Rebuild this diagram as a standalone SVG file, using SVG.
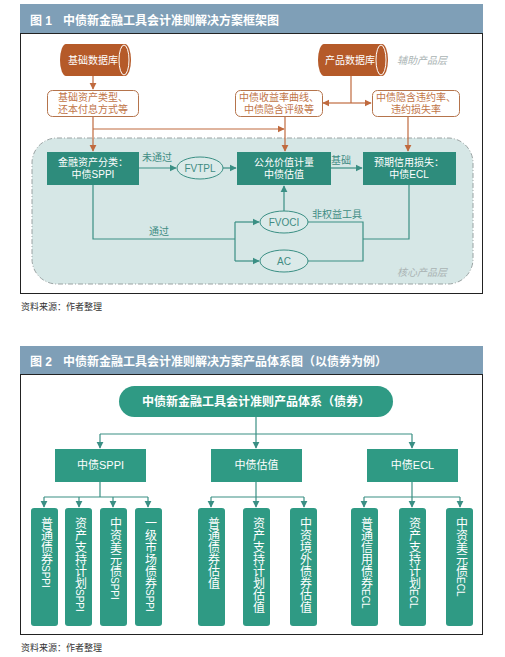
<svg xmlns="http://www.w3.org/2000/svg" width="505" height="657" viewBox="0 0 505 657">
<style>
text{font-family:"Liberation Sans","Noto Sans CJK SC",sans-serif}
.hdr{fill:#7f9fb7}
.ht{fill:#fff;font-size:12px;font-weight:bold}
.frame{fill:#fff;stroke:#222;stroke-width:1}
.src{fill:#333;font-size:9px}
.db{fill:#b55a29}
.dbt{fill:#fff;font-size:10px;text-anchor:middle}
.info{fill:#fff;stroke:#b5744c;stroke-width:1}
.infot{fill:#bf7448;font-size:10px;text-anchor:middle}
.bl{fill:none;stroke:#c06a3e;stroke-width:1.2}
.tl{fill:none;stroke:#3a8f84;stroke-width:1.2}
.cb{fill:#2e8c7c}
.cbt{fill:#fff;font-size:10px;text-anchor:middle}
.el{fill:#dbeae9;stroke:#3a8f84;stroke-width:1}
.elt{fill:#3f8c83;font-size:10px;text-anchor:middle}
.lbl{fill:#3f8c83;font-size:10px;text-anchor:middle}
.layer{fill:#aab4b4;font-size:10px;font-style:italic}
.b2{fill:#2f9a84}
.b2t{fill:#fff;font-size:11px;text-anchor:middle}
.vt{fill:#fff;font-size:12px;writing-mode:vertical-rl;text-orientation:mixed}
.lat{font-size:10px}
</style>
<defs>
<marker id="ab" viewBox="0 0 10 10" refX="9" refY="5" markerWidth="6" markerHeight="6" orient="auto-start-reverse"><path d="M0,0 L10,5 L0,10 z" fill="#c06a3e"/></marker>
<marker id="at" viewBox="0 0 10 10" refX="9" refY="5" markerWidth="6" markerHeight="6" orient="auto-start-reverse"><path d="M0,0 L10,5 L0,10 z" fill="#3a8f84"/></marker>
</defs>

<!-- Figure 1 -->
<rect class="hdr" x="20" y="4" width="463" height="29"/>
<text class="ht" x="30" y="25">图 1</text>
<text class="ht" x="63" y="25">中债新金融工具会计准则解决方案框架图</text>
<rect class="frame" x="20.5" y="33.5" width="462" height="260"/>

<path d="M57,138 H448 A25,25 0 0 1 473,163 V259 A25,25 0 0 1 448,284 H57 A25,25 0 0 1 32,259 V163 A25,25 0 0 1 57,138 Z" fill="#d6e7e6" stroke="#9aa3a3" stroke-width="1" stroke-dasharray="5,2,1,2"/>
<text class="layer" x="397" y="276">核心产品层</text>
<text class="layer" x="397" y="64">辅助产品层</text>

<g id="connectors">
<path class="bl" d="M93,76 V89" marker-end="url(#ab)"/>
<path class="bl" d="M351,76 V103"/>
<path class="bl" d="M351,103 H323" marker-end="url(#ab)"/>
<path class="bl" d="M351,103 H371" marker-end="url(#ab)"/>
<path class="bl" d="M93,117 V151" marker-end="url(#ab)"/>
<path class="bl" d="M93,129 H284" marker-end="url(#ab)"/>
<path class="bl" d="M285,117 V151" marker-end="url(#ab)"/>
<path class="bl" d="M408,117 V151" marker-end="url(#ab)"/>
<path class="tl" d="M139,168 H176" marker-end="url(#at)"/>
<path class="tl" d="M223,168 H236" marker-end="url(#at)"/>
<path class="tl" d="M331,168 H362" marker-end="url(#at)"/>
<path class="tl" d="M93,185 V239 H235"/>
<path class="tl" d="M235,222 V261"/>
<path class="tl" d="M235,222 H259" marker-end="url(#at)"/>
<path class="tl" d="M235,261 H259" marker-end="url(#at)"/>
<path class="tl" d="M284,211 V186" marker-end="url(#at)"/>
<path class="tl" d="M307,222 H363 V261 H307"/>
<path class="tl" d="M363,239 H409 V185"/>
</g>
<text class="lbl" x="157" y="161">未通过</text>
<text class="lbl" x="341" y="164">基础</text>
<text class="lbl" x="159" y="235">通过</text>
<text class="lbl" x="337" y="218">非权益工具</text>

<g id="db1">
<path class="db" d="M66,44 H125 A6,16 0 0 1 125,76 H66 A6,16 0 0 1 66,44 Z"/>
<ellipse cx="124" cy="60" rx="5" ry="15" fill="#b55a29" stroke="#fff" stroke-width="1"/>
<text class="dbt" x="93" y="64">基础数据库</text>
</g>
<g id="db2">
<path class="db" d="M324,44 H382 A6,16 0 0 1 382,76 H324 A6,16 0 0 1 324,44 Z"/>
<ellipse cx="381" cy="60" rx="5" ry="15" fill="#b55a29" stroke="#fff" stroke-width="1"/>
<text class="dbt" x="350" y="64">产品数据库</text>
</g>
<g id="info1">
<rect class="info" x="47.5" y="90.5" width="91" height="26" rx="5"/>
<text class="infot" x="93" y="101">基础资产类型、</text>
<text class="infot" x="93" y="113">还本付息方式等</text>
</g>
<g id="info2">
<rect class="info" x="235.5" y="90.5" width="87" height="26" rx="5"/>
<text class="infot" x="279" y="101">中债收益率曲线、</text>
<text class="infot" x="279" y="113">中债隐含评级等</text>
</g>
<g id="info3">
<rect class="info" x="372.5" y="90.5" width="87" height="26" rx="5"/>
<text class="infot" x="416" y="101">中债隐含违约率、</text>
<text class="infot" x="416" y="113">违约损失率</text>
</g>
<g id="sppi">
<rect class="cb" x="47" y="152" width="92" height="33"/>
<text class="cbt" x="93" y="166">金融资产分类：</text>
<text class="cbt" x="93" y="178">中债SPPI</text>
</g>
<g id="fv">
<rect class="cb" x="237" y="152" width="94" height="33"/>
<text class="cbt" x="284" y="166">公允价值计量</text>
<text class="cbt" x="284" y="178">中债估值</text>
</g>
<g id="ecl">
<rect class="cb" x="363" y="152" width="93" height="33"/>
<text class="cbt" x="409" y="166">预期信用损失：</text>
<text class="cbt" x="409" y="178">中债ECL</text>
</g>
<g id="fvtpl">
<ellipse class="el" cx="200" cy="168" rx="23" ry="11"/>
<text class="elt" x="200" y="172">FVTPL</text>
</g>
<g id="fvoci">
<ellipse class="el" cx="284" cy="222" rx="24" ry="11"/>
<text class="elt" x="284" y="226">FVOCI</text>
</g>
<g id="ac">
<ellipse class="el" cx="284" cy="261" rx="24" ry="11"/>
<text class="elt" x="284" y="265">AC</text>
</g>
<text class="src" x="21" y="310">资料来源：作者整理</text>

<!-- Figure 2 -->
<rect class="hdr" x="20" y="346" width="463" height="28"/>
<text class="ht" x="30" y="366">图 2</text>
<text class="ht" x="63" y="366">中债新金融工具会计准则解决方案产品体系图（以债券为例）</text>
<rect class="frame" x="20.5" y="374.5" width="462" height="260"/>

<g id="connectors2">
<path class="tl" d="M256,417 V434"/>
<path class="tl" d="M100,434 H412"/>
<path class="tl" d="M100,434 V448" marker-end="url(#at)"/>
<path class="tl" d="M256,434 V448" marker-end="url(#at)"/>
<path class="tl" d="M412,434 V448" marker-end="url(#at)"/>
<path class="tl" d="M100,482 V497"/>
<path class="tl" d="M44,497 H148"/>
<path class="tl" d="M44,497 V507" marker-end="url(#at)"/>
<path class="tl" d="M79,497 V507" marker-end="url(#at)"/>
<path class="tl" d="M113,497 V507" marker-end="url(#at)"/>
<path class="tl" d="M148,497 V507" marker-end="url(#at)"/>
<path class="tl" d="M256,482 V507" marker-end="url(#at)"/>
<path class="tl" d="M211,497 H304"/>
<path class="tl" d="M211,497 V507" marker-end="url(#at)"/>
<path class="tl" d="M304,497 V507" marker-end="url(#at)"/>
<path class="tl" d="M412,482 V507" marker-end="url(#at)"/>
<path class="tl" d="M364,497 H460"/>
<path class="tl" d="M364,497 V507" marker-end="url(#at)"/>
<path class="tl" d="M460,497 V507" marker-end="url(#at)"/>
</g>

<g id="root">
<rect class="b2" x="119" y="386" width="274" height="31" rx="15.5"/>
<text x="256" y="406" fill="#fff" font-size="12" font-weight="bold" text-anchor="middle" style="font-family:'Noto Sans CJK SC',sans-serif">中债新金融工具会计准则产品体系（债券）</text>
</g>
<g id="l2a"><rect class="b2" x="55" y="449" width="91" height="33"/><text class="b2t" x="100.5" y="469">中债SPPI</text></g>
<g id="l2b"><rect class="b2" x="211" y="449" width="91" height="33"/><text class="b2t" x="256.5" y="469">中债估值</text></g>
<g id="l2c"><rect class="b2" x="367" y="449" width="91" height="33"/><text class="b2t" x="412.5" y="469">中债ECL</text></g>

<g id="s1"><rect class="b2" x="31" y="508" width="27" height="118" rx="3"/><text class="vt" x="45.5" y="517">普通债券<tspan class="lat">SPPI</tspan></text></g>
<g id="s2"><rect class="b2" x="65" y="508" width="27" height="118" rx="3"/><text class="vt" x="79.5" y="517">资产支持计划<tspan class="lat">SPPI</tspan></text></g>
<g id="s3"><rect class="b2" x="100" y="508" width="27" height="118" rx="3"/><text class="vt" x="114.5" y="517">中资美元债<tspan class="lat">SPPI</tspan></text></g>
<g id="s4"><rect class="b2" x="135" y="508" width="27" height="118" rx="3"/><text class="vt" x="149.5" y="517">一级市场债券<tspan class="lat">SPPI</tspan></text></g>
<g id="v1"><rect class="b2" x="198" y="508" width="27" height="118" rx="3"/><text class="vt" x="212.5" y="517">普通债券估值</text></g>
<g id="v2"><rect class="b2" x="243" y="508" width="27" height="118" rx="3"/><text class="vt" x="257.5" y="517">资产支持计划估值</text></g>
<g id="v3"><rect class="b2" x="290" y="508" width="27" height="118" rx="3"/><text class="vt" x="304.5" y="517">中资境外债券估值</text></g>
<g id="e1"><rect class="b2" x="351" y="508" width="27" height="118" rx="3"/><text class="vt" x="365.5" y="517">普通信用债券<tspan class="lat">ECL</tspan></text></g>
<g id="e2"><rect class="b2" x="399" y="508" width="27" height="118" rx="3"/><text class="vt" x="413.5" y="517">资产支持计划<tspan class="lat">ECL</tspan></text></g>
<g id="e3"><rect class="b2" x="446" y="508" width="27" height="118" rx="3"/><text class="vt" x="460.5" y="517">中资美元债<tspan class="lat">ECL</tspan></text></g>

<text class="src" x="21" y="651">资料来源：作者整理</text>
</svg>
